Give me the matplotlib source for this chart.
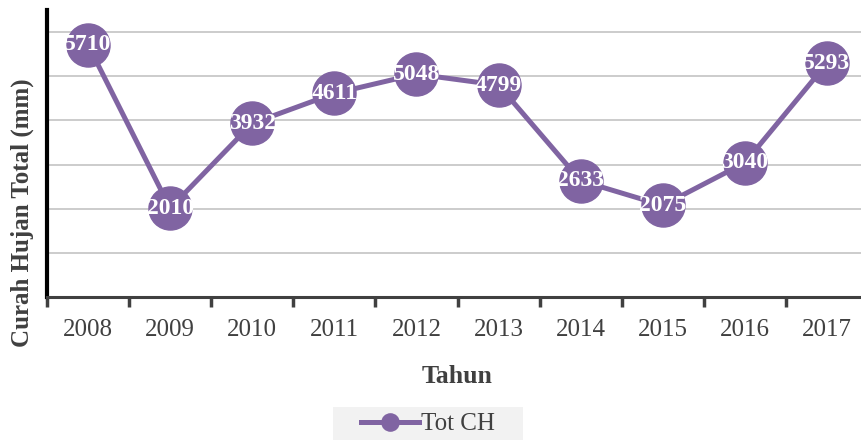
import matplotlib.pyplot as plt
import numpy as np
from matplotlib.patches import Rectangle

years = ["2008", "2009", "2010", "2011", "2012", "2013", "2014", "2015", "2016", "2017"]
tot_ch = [5710, 2010, 3932, 4611, 5048, 4799, 2633, 2075, 3040, 5293]

purple = "#8064A2"
txt = "#404040"

plt.rcParams["font.family"] = ["Liberation Serif", "DejaVu Serif"]

fig = plt.figure(figsize=(8.61, 4.41), dpi=100)
ax = fig.add_axes([47 / 861, 1 - 297 / 441, 821 / 861, 287 / 441])

x = np.arange(len(years))
ax.plot(x, tot_ch, color=purple, lw=3.6, marker="o", ms=31, mfc=purple, mec=purple,
        label="Tot CH", zorder=3)
for xi, v in zip(x, tot_ch):
    ax.text(xi, v, str(v), color="white", fontsize=17, fontweight="bold",
            ha="center", va="center", zorder=4)

ax.set_xlim(-0.5, len(years) - 0.5)
ax.set_ylim(0, 6500)
ax.set_yticks(np.arange(1000, 7000, 1000))
ax.set_yticklabels([])
ax.tick_params(axis="y", length=0)
ax.grid(axis="y", color="#c8c8c8", lw=1.3)
ax.set_axisbelow(True)

ax.set_xticks(x)
ax.set_xticklabels(years, fontsize=18, color=txt)
ax.tick_params(axis="x", which="major", length=0, pad=16)
ax.set_xticks(np.arange(-0.5, len(years)), minor=True)
ax.tick_params(axis="x", which="minor", length=7, width=2.5, color=txt, direction="out")

for s in ["top", "right"]:
    ax.spines[s].set_visible(False)
ax.spines["left"].set_color("black")
ax.spines["left"].set_linewidth(3)
ax.spines["bottom"].set_color(txt)
ax.spines["bottom"].set_linewidth(2.2)

ax.set_xlabel("Tahun", fontsize=18.5, fontweight="bold", color=txt, labelpad=17)
ax.set_ylabel("Curah Hujan Total (mm)", fontsize=18, fontweight="bold", color=txt)
ax.yaxis.set_label_coords(-13 / 821, (297 - 213) / 287)

# legend background box
fig.patches.append(Rectangle((333 / 861, 1 / 441), 190 / 861, 33 / 441,
                             transform=fig.transFigure, facecolor="#f2f2f2",
                             edgecolor="none", zorder=0))
leg = fig.legend(loc="lower center", bbox_to_anchor=(428 / 861, 2 / 441),
                 frameon=False, fontsize=18, markerscale=0.4, handlelength=2.3,
                 handletextpad=0.1, borderpad=0.15, borderaxespad=0)
for t in leg.get_texts():
    t.set_color(txt)

fig.savefig("out.png", dpi=100)
